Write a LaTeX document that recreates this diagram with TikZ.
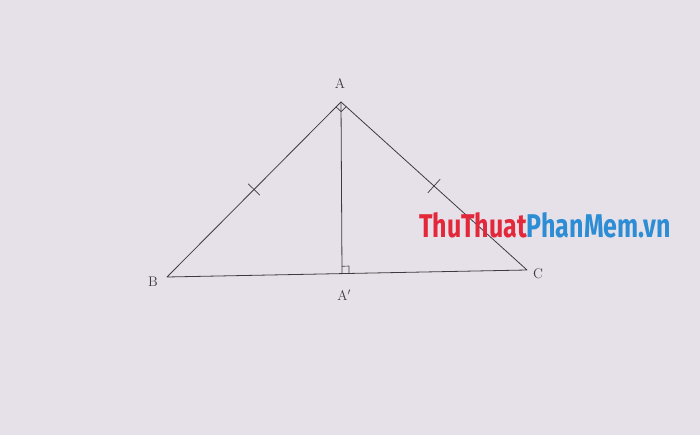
\documentclass[tikz,border=0pt]{standalone}
\usepackage{fontspec}
\usetikzlibrary{calc}
\newfontfamily\wmfont{Fira Sans}
\definecolor{bgcol}{RGB}{230,225,232}
\definecolor{linecol}{RGB}{62,58,64}
\definecolor{wmred}{RGB}{226,40,58}
\definecolor{wmblue}{RGB}{44,140,212}
\begin{document}
\begin{tikzpicture}[x=1bp,y=-1bp,line join=round,line cap=round,font=\fontsize{14}{16}\selectfont]
	\fill[bgcol] (0,0) rectangle (700,435);
	\useasboundingbox (0,0) rectangle (700,435);
	\path
	(341,102) coordinate (A)
	(167,277) coordinate (B)
	(527,270) coordinate (C)
	(342,273.2) coordinate (H);
	% triangle and altitude
	\draw[linecol,line width=0.8bp] (A)--(B)--(C)--cycle;
	\draw[linecol,line width=0.8bp] (A)--(H);
	% right angle marks
	\draw[linecol,line width=0.7bp] ($(A)!7bp!(B)$)--($(A)!7bp!(B)+(A)!7bp!(C)-(A)$)--($(A)!7bp!(C)$);
	\draw[linecol,line width=0.7bp] ($(H)!7bp!(A)$)--($(H)!7bp!(A)+(H)!7bp!(C)-(H)$)--($(H)!7bp!(C)$);
	% equal marks
	\path ($(A)!0.5!(B)$) coordinate (mAB) ($(A)!0.5!(C)$) coordinate (mAC);
	\draw[linecol,line width=0.7bp] ($(mAB)!8bp!90:(A)$)--($(mAB)!8bp!-90:(A)$);
	\draw[linecol,line width=0.7bp] ($(mAC)!9bp!90:(A)$)--($(mAC)!9bp!-90:(A)$);
	% labels
	\node[text=linecol] (lA) at (340,84) {A};
	\node[text=linecol] (lB) at (153,282) {B};
	\node[text=linecol] (lC) at (538,274) {C};
	\node[text=linecol] (lH) at (344,295) {A$'$};
	% watermark
	\node[xscale=0.76,font=\wmfont\bfseries\fontsize{33}{35}\selectfont] (wm) at (545,225) {\textcolor{wmred}{ThuThuat}\textcolor{wmblue}{PhanMem.vn}};
\end{tikzpicture}
\end{document}
